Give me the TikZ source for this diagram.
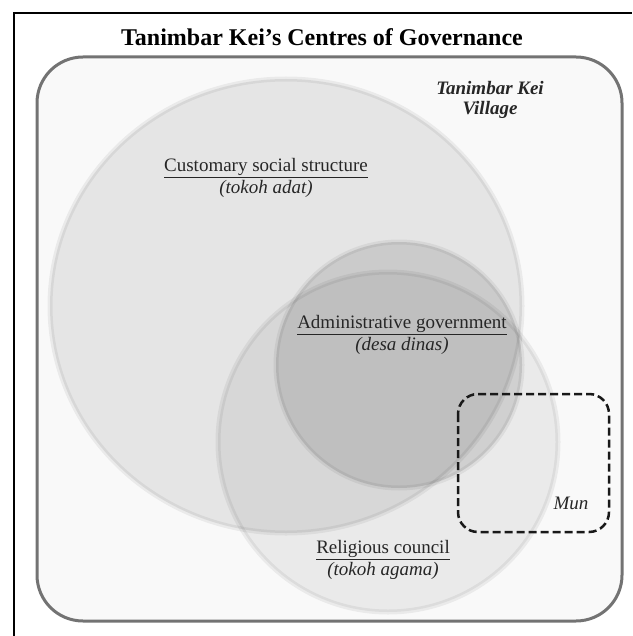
\documentclass[tikz,border=0pt]{standalone}
\usepackage{fontspec}
\setmainfont{Liberation Serif}
\tikzset{>=stealth}
\colorlet{frameColor}{black!55}
\colorlet{penColor}{black!85}
\colorlet{zoneColor}{black}
\tikzset{zone/.style={fill=zoneColor, fill opacity=.08, draw=zoneColor, draw opacity=.06, line width=5pt}}
\tikzset{tag/.style={penColor, align=center, inner sep=0pt, font=\fontsize{19}{22.5}\selectfont}}

\begin{document}
\begin{tikzpicture}[x=1pt,y=-1pt]
				\useasboundingbox (0,0) rectangle (632,636);
				\draw[black, line width=2pt] (14,636) -- (14,13) -- (632,13);
				\node [black, font=\fontsize{24}{28}\bfseries] (title) at (322,37) {Tanimbar Kei’s Centres of Governance};
				% the village
				\draw[frameColor, fill=black!2.5, line width=3pt, rounded corners=46pt] (37,57) rectangle (622,621);
				% the three centres
				\draw[zone] (286,306) ellipse [x radius=236, y radius=227];
				\draw[zone, fill opacity=.06] (388,442) circle [radius=170];
				\draw[zone, fill opacity=.11] (399,365) circle [radius=123];
				\draw[black!90, dashed, dash pattern=on 8pt off 4pt, line width=2.5pt, rounded corners=20pt] (458,394) rectangle (609,532);
				\node [tag, font=\fontsize{19}{20}\bfseries\itshape] (village) at (490,100) {Tanimbar Kei\\Village};
				\node [tag] (custom) at (266,178) {\underline{Customary social structure}\\\textit{(tokoh adat)}};
				\node [tag] (admin) at (402,335) {\underline{Administrative government}\\\textit{(desa dinas)}};
				\node [tag] (relig) at (383,560) {\underline{Religious council}\\\textit{(tokoh agama)}};
				\node [tag, font=\fontsize{19}{22}\itshape] (mun) at (571,503) {Mun};
				\end{tikzpicture}
\end{document}
